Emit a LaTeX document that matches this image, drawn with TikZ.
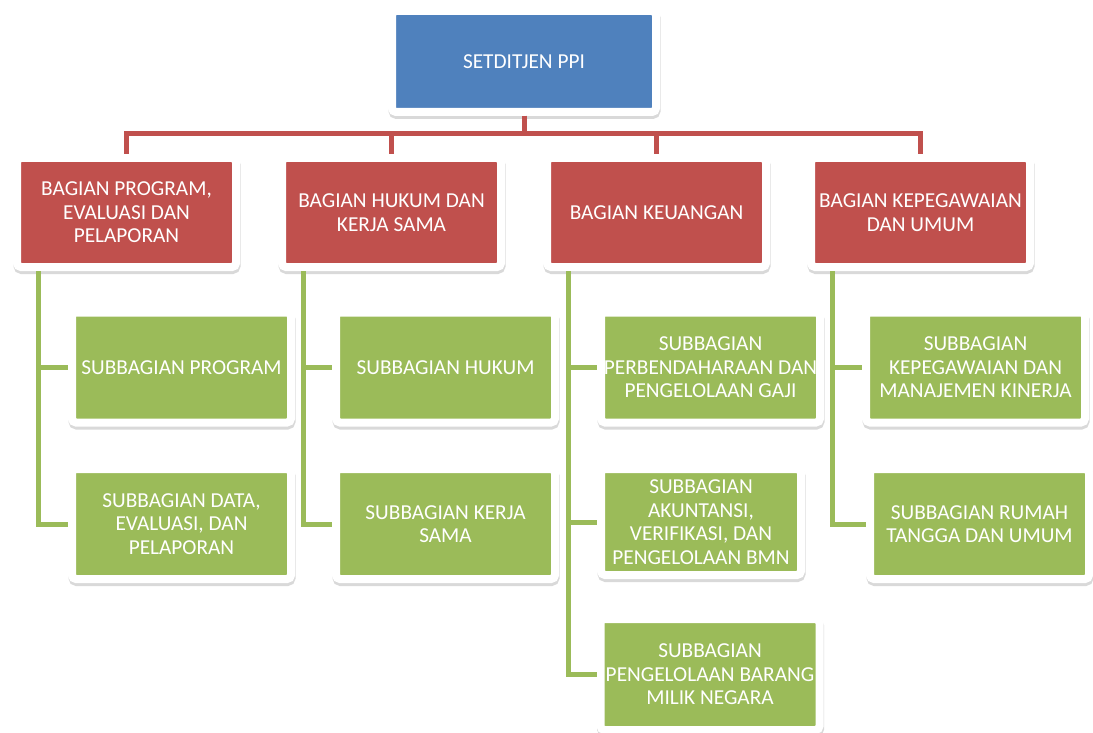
\documentclass[tikz,border=0pt]{standalone}
\usepackage{fontspec}
\setmainfont{Carlito}
\usetikzlibrary{calc}
\definecolor{headblue}{HTML}{4F81BD}
\definecolor{bagred}{HTML}{C0504D}
\definecolor{subgreen}{HTML}{9BBB59}

\begin{document}
\begin{tikzpicture}[x=1pt,y=-1pt,
        card/.style={rectangle, rounded corners=4pt, draw=white, line width=8pt,
            fill=#1, text=white, align=center, inner sep=0pt,
            font=\fontsize{21.3}{23.5}\selectfont,
            preaction={draw=black!15, fill=black!15,
                transform canvas={shift={(0.5pt,-3pt)}}}},
        head/.style={card=headblue, minimum width=264pt, minimum height=101pt},
        bagian/.style={card=bagred, minimum width=219pt, minimum height=109pt},
        sub/.style={card=subgreen, minimum width=219pt, minimum height=110pt},
        redline/.style={draw=bagred, line width=5pt},
        greenline/.style={draw=subgreen, line width=5pt}]
    \useasboundingbox (0,0) rectangle (1093,733);

    \node[head] (setditjen) at (524,61.5) {SETDITJEN PPI};

    \node[bagian] (program) at (126.5,212.5) {BAGIAN PROGRAM,\\EVALUASI DAN\\PELAPORAN};
    \node[bagian] (hukum) at (391.5,212.5) {BAGIAN HUKUM DAN\\KERJA SAMA};
    \node[bagian] (keuangan) at (656.5,212.5) {BAGIAN KEUANGAN};
    \node[bagian] (kepegawaian) at (920.5,212.5) {BAGIAN KEPEGAWAIAN\\DAN UMUM};

    \node[sub] (subprogram) at (181.5,367.5) {SUBBAGIAN PROGRAM};
    \node[sub] (subdata) at (181.5,524) {SUBBAGIAN DATA,\\EVALUASI, DAN\\PELAPORAN};
    \node[sub] (subhukum) at (445.5,367.5) {SUBBAGIAN HUKUM};
    \node[sub] (subkerjasama) at (445.5,524) {SUBBAGIAN KERJA\\SAMA};
    \node[sub] (subgaji) at (710.5,367.5) {SUBBAGIAN\\PERBENDAHARAAN DAN\\PENGELOLAAN GAJI};
    \node[sub, minimum width=200pt, minimum height=106pt] (subakuntansi) at (701,522)
        {SUBBAGIAN\\AKUNTANSI,\\VERIFIKASI, DAN\\PENGELOLAAN BMN};
    \node[sub, minimum height=111pt] (subbmn) at (710,674.5) {SUBBAGIAN\\PENGELOLAAN BARANG\\MILIK NEGARA};
    \node[sub] (subpegawai) at (975.5,367.5) {SUBBAGIAN\\KEPEGAWAIAN DAN\\MANAJEMEN KINERJA};
    \node[sub] (subrumah) at (979.5,524) {SUBBAGIAN RUMAH\\TANGGA DAN UMUM};

    \draw[redline] (setditjen.south) -- ++(0,18) -| (program.north);
    \draw[redline] (setditjen.south) -- ++(0,18) -| (hukum.north);
    \draw[redline] (setditjen.south) -- ++(0,18) -| (keuangan.north);
    \draw[redline] (setditjen.south) -- ++(0,18) -| (kepegawaian.north);

    \draw[greenline] ($(program.south west)+(25,0)$) |- (subprogram.west);
    \draw[greenline] ($(program.south west)+(25,0)$) |- (subdata.west);
    \draw[greenline] ($(hukum.south west)+(25,0)$) |- (subhukum.west);
    \draw[greenline] ($(hukum.south west)+(25,0)$) |- (subkerjasama.west);
    \draw[greenline] ($(keuangan.south west)+(25,0)$) |- (subgaji.west);
    \draw[greenline] ($(keuangan.south west)+(25,0)$) |- (subakuntansi.west);
    \draw[greenline] ($(keuangan.south west)+(25,0)$) |- (subbmn.west);
    \draw[greenline] ($(kepegawaian.south west)+(25,0)$) |- (subpegawai.west);
    \draw[greenline] ($(kepegawaian.south west)+(25,0)$) |- (subrumah.west);
\end{tikzpicture}
\end{document}
